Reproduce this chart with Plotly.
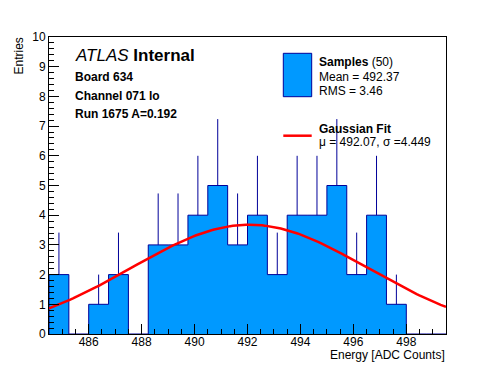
import numpy as np
import plotly.graph_objects as go

# ---- data ----
bin_low = 484.5
bin_width = 0.75
counts = [2, 0, 1, 2, 0, 3, 3, 4, 5, 3, 4, 2, 4, 4, 5, 2, 4, 1, 0, 0]
n_samples = 50
sample_mean = 492.37
sample_rms = 3.46
fit_mu = 492.07
fit_sigma = 4.449
fit_amp = 3.68
x_tick_vals = [486, 488, 490, 492, 494, 496, 498]
y_tick_vals = list(range(0, 11))

FILL = "rgb(0,153,255)"
NAVY = "rgb(0,0,153)"
RED = "rgb(255,0,0)"
FONT = "Liberation Sans, Arial, Helvetica, sans-serif"

W, H = 496, 372
L, R, T, B = 49, 446, 37, 334


def px(x, y):
    return (x - L) / (R - L), (B - y) / (B - T)


edges = [bin_low + i * bin_width for i in range(len(counts) + 1)]
centers = [bin_low + (i + 0.5) * bin_width for i in range(len(counts))]

fig = go.Figure()

# filled step histogram
step_x = [edges[0]] + edges
step_y = [0] + counts + [counts[-1]]
fig.add_trace(go.Scatter(
    x=step_x, y=step_y, mode="lines", line_shape="hv",
    line=dict(color=NAVY, width=1), fill="tozeroy", fillcolor=FILL,
    hoverinfo="skip", showlegend=False))

# error bars (upper part visible above bar)
ex = [c for c, n in zip(centers, counts) if n > 0]
ey = [n for n in counts if n > 0]
err = [float(np.sqrt(n)) for n in ey]
fig.add_trace(go.Scatter(
    x=ex, y=ey, mode="markers", marker=dict(size=1, opacity=0),
    error_y=dict(type="data", symmetric=False, array=err,
                 arrayminus=[0] * len(err), width=0, thickness=1, color=NAVY),
    showlegend=False, hoverinfo="skip"))

# gaussian fit
gx = np.linspace(edges[0], edges[-1], 150)
gy = fit_amp * np.exp(-0.5 * ((gx - fit_mu) / fit_sigma) ** 2)
fig.add_trace(go.Scatter(x=gx, y=gy, mode="lines",
                         line=dict(color=RED, width=2.5), showlegend=False))

axis_common = dict(showline=True, linecolor="black", linewidth=1, mirror=True,
                   ticks="inside", ticklen=10, tickcolor="black", tickwidth=1,
                   showgrid=False, zeroline=False,
                   tickfont=dict(family=FONT, size=12, color="black"))

fig.update_xaxes(range=[edges[0], edges[-1]], tickvals=x_tick_vals,
                 ticklabelstandoff=-3,
                 minor=dict(dtick=0.5, tick0=484, ticklen=5, ticks="inside",
                            tickcolor="black", showgrid=False),
                 **axis_common)
fig.update_yaxes(range=[0, 10], tickvals=y_tick_vals,
                 minor=dict(dtick=0.2, tick0=0, ticklen=5, ticks="inside",
                            tickcolor="black", showgrid=False),
                 **axis_common)

ann = []


def text(x, y, s, size=12, xanchor="left", yanchor="middle", angle=0):
    xp, yp = px(x, y)
    ann.append(dict(x=xp, y=yp, xref="paper", yref="paper", text=s,
                    showarrow=False, xanchor=xanchor, yanchor=yanchor,
                    textangle=angle, borderpad=0,
                    font=dict(family=FONT, size=size, color="black")))


text(74, 55.5, "<i>ATLAS</i> <b>Internal</b>", size=17)
text(74, 76.5, "<b>Board 634</b>")
text(74, 95.5, "<b>Channel 071 lo</b>")
text(74, 114, "<b>Run 1675 A=0.192</b>")

text(317.5, 61.5, f"<b>Samples</b> ({n_samples})")
text(317.5, 76.5, f"Mean = {sample_mean:.2f}")
text(317.5, 90.5, f"RMS = {sample_rms:.2f}")
text(317.5, 128.5, "<b>Gaussian Fit</b>")
text(317.5, 142, f"\u03bc = {fit_mu:.2f}, \u03c3 ={fit_sigma:.3f}")

text(446, 354.5, "Energy [ADC Counts]", xanchor="right")
text(18, 37, "Entries", xanchor="center", yanchor="top", angle=-90)

shapes = []
x0, y0 = px(283.3, 96.7)
x1, y1 = px(311.7, 53.3)
shapes.append(dict(type="rect", xref="paper", yref="paper", x0=x0, y0=y0,
                   x1=x1, y1=y1, fillcolor=FILL, line=dict(color=NAVY, width=1)))
lx0, ly = px(283.3, 135.7)
lx1, _ = px(311.7, 135.7)
shapes.append(dict(type="line", xref="paper", yref="paper", x0=lx0, y0=ly,
                   x1=lx1, y1=ly, line=dict(color=RED, width=2.5)))

fig.update_layout(width=W, height=H, margin=dict(l=L, r=W - R, t=T, b=H - B),
                  paper_bgcolor="white", plot_bgcolor="white",
                  annotations=ann, shapes=shapes, showlegend=False)

fig.write_html("out.html", config={"displayModeBar": False},
               post_script="document.body.style.margin='0';"
                           "document.body.style.padding='0';")
